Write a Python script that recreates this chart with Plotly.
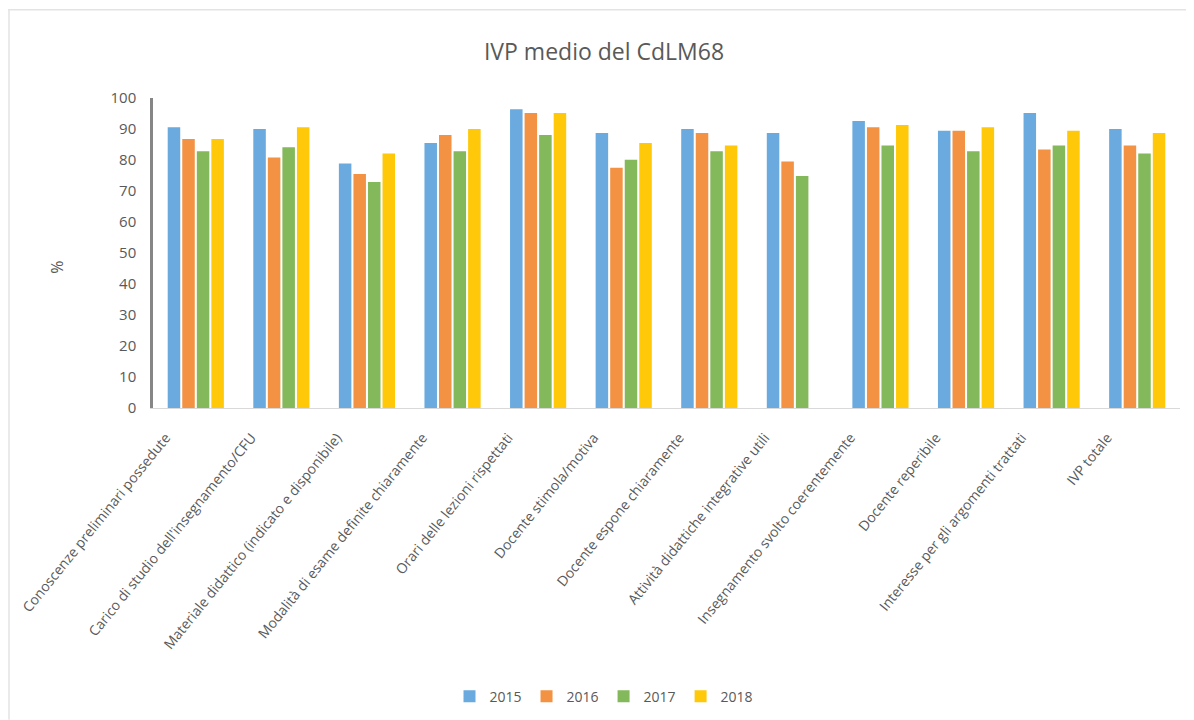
import plotly.graph_objects as go

categories = [
    "Conoscenze preliminari possedute",
    "Carico di studio dell'insegnamento/CFU",
    "Materiale didattico (indicato e disponibile)",
    "Modalità di esame definite chiaramente",
    "Orari delle lezioni rispettati",
    "Docente stimola/motiva",
    "Docente espone chiaramente",
    "Attività didattiche integrative utili",
    "Insegnamento svolto coerentemente",
    "Docente reperibile",
    "Interesse per gli argomenti trattati",
    "IVP totale",
]
years = ["2015", "2016", "2017", "2018"]
v2015 = [90.6, 90.0, 78.9, 85.5, 96.4, 88.7, 90.0, 88.7, 92.6, 89.4, 95.2, 90.0]
v2016 = [86.8, 80.8, 75.5, 88.1, 95.2, 77.5, 88.7, 79.5, 90.6, 89.4, 83.4, 84.7]
v2017 = [82.8, 84.1, 72.9, 82.8, 88.1, 80.1, 82.8, 74.8, 84.7, 82.8, 84.7, 82.1]
v2018 = [86.8, 90.6, 82.1, 90.0, 95.2, 85.5, 84.7, None, 91.3, 90.6, 89.4, 88.7]
series = [v2015, v2016, v2017, v2018]
colors = ["#6AAADF", "#F39242", "#83B85B", "#FFC808"]

# page body has an 8px margin: work in screen coordinates, convert to figure coords
OFF = 8
W, H = 1194 - OFF, 720 - OFF
S_L, S_R, S_TOP, S_BOT = 153, 1180, 98.3, 408.3   # screen coords of plot area
L, R_EDGE, TOP, BOT = S_L - OFF, S_R - OFF, S_TOP - OFF, S_BOT - OFF
pw, ph = R_EDGE - L, BOT - TOP

def px(x):
    return (x - S_L) / pw

def py(y):
    return (S_BOT - y) / ph

font_family = "Open Sans, Noto Sans, sans-serif"
gray = "#595959"

fig = go.Figure()
for name, vals, col in zip(years, series, colors):
    fig.add_trace(go.Bar(x=categories, y=vals, name=name, marker_color=col,
                         marker_line_width=0))

fig.update_layout(
    width=W, height=H,
    margin=dict(l=L, r=W - R_EDGE, t=TOP, b=H - BOT, autoexpand=False),
    paper_bgcolor="white", plot_bgcolor="white",
    barmode="group", bargap=0.32, bargroupgap=0.14,
    font=dict(family=font_family, color=gray, size=14),
    title=dict(text="IVP medio del CdLM68", x=px(604), xref="paper", xanchor="center",
               y=1 - (52 - OFF) / H, yref="container", yanchor="middle",
               font=dict(size=23, color=gray, family=font_family)),
    showlegend=True,
    legend=dict(orientation="h", x=px(604), xanchor="center", y=py(697), yanchor="middle",
                font=dict(size=14, color=gray), itemwidth=30, traceorder="normal"),
    xaxis=dict(showgrid=False, showline=True, linecolor="#D9D9D9", linewidth=1,
               tickangle=-51, tickfont=dict(size=14, color=gray), ticks="",
               ticklabelshift=-30, ticklabelstandoff=15, automargin=False),
    yaxis=dict(range=[0, 100], dtick=10, showgrid=False, showline=True,
               linecolor="#868686", linewidth=2.5, ticks="", zeroline=False,
               tickfont=dict(size=15, color=gray), ticklabelstandoff=11, automargin=False),
    shapes=[
        dict(type="line", xref="paper", yref="paper", x0=px(OFF), x1=px(1194), y0=py(10), y1=py(10),
             line=dict(color="#E3E3E3", width=1.5)),
        dict(type="line", xref="paper", yref="paper", x0=px(OFF + 1), x1=px(OFF + 1), y0=py(10), y1=py(720),
             line=dict(color="#E3E3E3", width=1.5)),
    ],
    annotations=[
        dict(text="%", xref="paper", yref="paper", x=px(57), y=py(268), showarrow=False,
             textangle=-90, font=dict(size=16, color=gray), xanchor="center", yanchor="middle"),
    ],
)

fig.write_html("out.html")
